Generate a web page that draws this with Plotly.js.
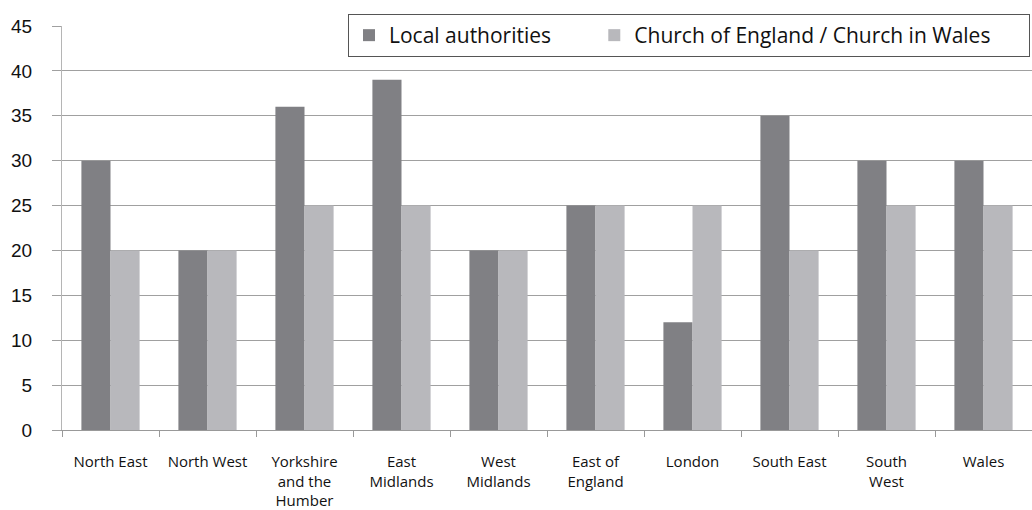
<!DOCTYPE html>
<html>
<head>
<meta charset="utf-8">
<script src="https://cdn.plot.ly/plotly-3.0.1.min.js"></script>
<style>html,body{margin:0;padding:0;background:#fff;}#chart{width:1032px;height:510px;}</style>
</head>
<body>
<div id="chart"></div>
<script>
var categories = ["North East", "North West", "Yorkshire<br>and the<br>Humber", "East<br>Midlands", "West<br>Midlands", "East of<br>England", "London", "South East", "South<br>West", "Wales"];
var localAuthorities = [30, 20, 36, 39, 20, 25, 12, 35, 30, 30];
var churchOfEngland = [20, 20, 25, 25, 20, 25, 25, 20, 25, 25];
var seriesNames = ["Local authorities", "Church of England / Church in Wales"];

var NB = "\u00a0";
function pad(s, n) { var out = s; for (var i = 0; i < n; i++) out += NB; return out; }

var data = [
  {type: "bar", x: categories, y: localAuthorities, name: pad(seriesNames[0], 7), marker: {color: "#808084"}},
  {type: "bar", x: categories, y: churchOfEngland, name: pad(seriesNames[1], 6), marker: {color: "#b8b8bc"}}
];

var layout = {
  width: 1032, height: 510,
  margin: {l: 62, r: 0, t: 26, b: 80, pad: 0},
  paper_bgcolor: "#fff", plot_bgcolor: "#fff",
  barmode: "group", bargap: 0.4, bargroupgap: 0,
  showlegend: true,
  legend: {
    orientation: "h", xref: "paper", yref: "paper",
    x: (348 - 62) / 970, xanchor: "left",
    y: 1 + (26 - 14) / 404, yanchor: "top",
    bgcolor: "#fff", bordercolor: "#555", borderwidth: 1,
    font: {family: "Open Sans, sans-serif", size: 21, color: "#111"},
    itemwidth: 30
  },
  xaxis: {
    type: "category", tickson: "boundaries",
    ticks: "outside", ticklen: 6, tickcolor: "#999", tickwidth: 1,
    showline: true, linecolor: "#999", linewidth: 1,
    showgrid: false, fixedrange: true,
    ticklabelstandoff: 18,
    tickfont: {family: "Open Sans, sans-serif", size: 15, color: "#111"},
    tickangle: 0
  },
  yaxis: {
    range: [0, 45], dtick: 5, tick0: 0,
    ticks: "outside", ticklen: 9, tickcolor: "#a0a0a0", tickwidth: 1,
    showline: true, linecolor: "#b5b5b5", linewidth: 1,
    showgrid: true, gridcolor: "#a0a0a0", gridwidth: 1,
    zeroline: false, fixedrange: true,
    ticklabelstandoff: 16,
    tickfont: {family: "Liberation Sans, Arial, sans-serif", size: 19, color: "#111"}
  }
};

Plotly.newPlot("chart", data, layout, {staticPlot: true, displayModeBar: false});
</script>
</body>
</html>
